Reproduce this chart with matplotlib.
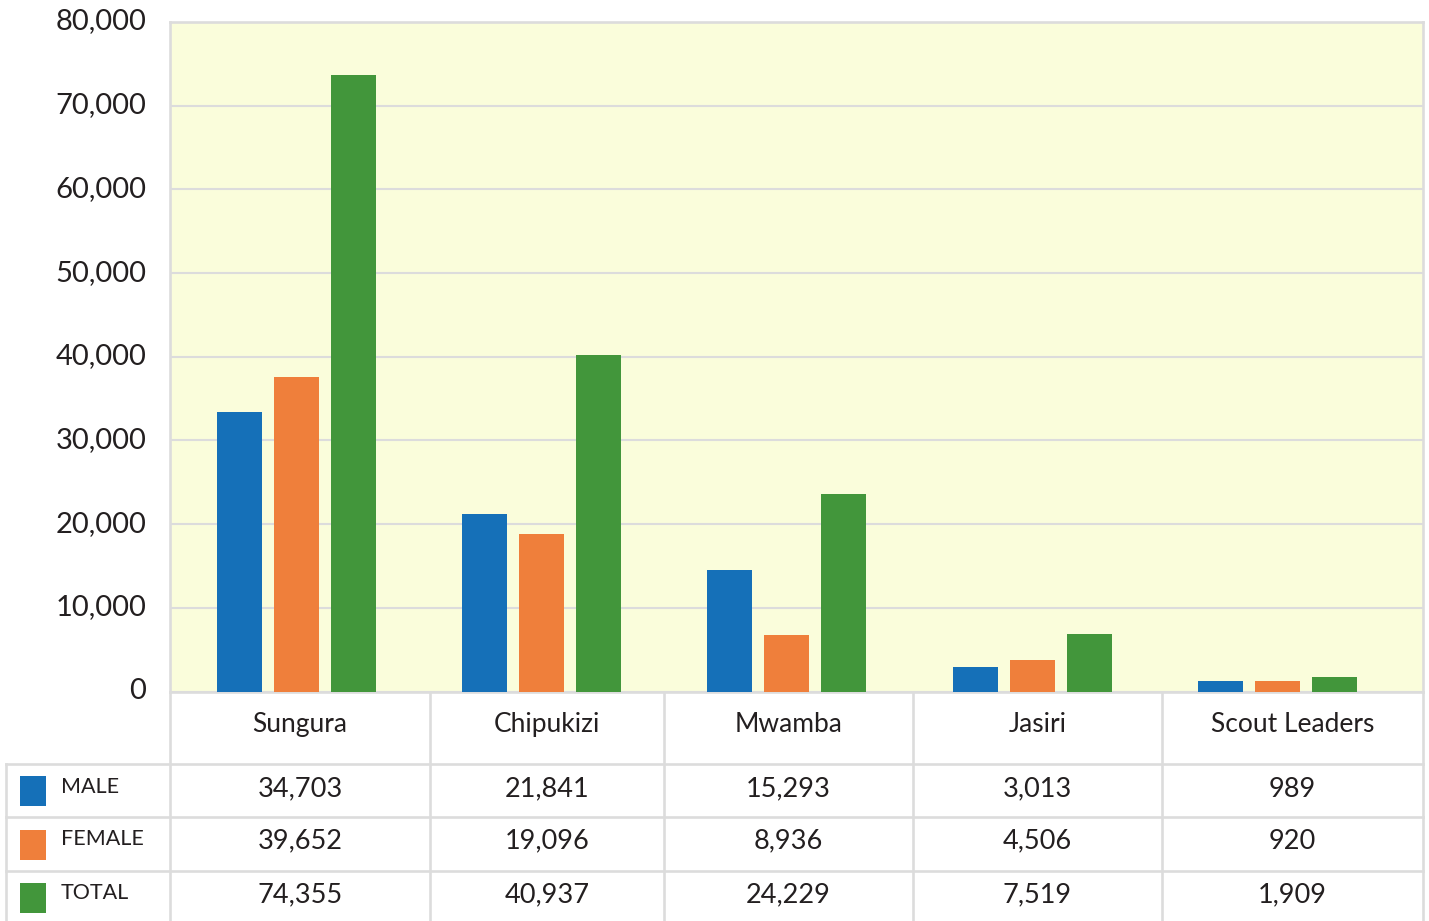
import matplotlib
matplotlib.use("Agg")
import matplotlib.pyplot as plt
from matplotlib.patches import Rectangle
from matplotlib.lines import Line2D
from matplotlib.transforms import ScaledTranslation
import numpy as np

plt.rcParams['font.family'] = ['Lato', 'DejaVu Sans']

# ---------------- data ----------------
categories = ["Sungura", "Chipukizi", "Mwamba", "Jasiri", "Scout Leaders"]
series_names = ["MALE", "FEMALE", "TOTAL"]
# values shown in the data table
male_table = [34703, 21841, 15293, 3013, 989]
female_table = [39652, 19096, 8936, 4506, 920]
total_table = [74355, 40937, 24229, 7519, 1909]
# bar heights as drawn in the reference picture
male_bars = [33400, 21220, 14530, 2900, 1310]
female_bars = [37590, 18830, 6710, 3750, 1310]
total_bars = [73670, 40220, 23610, 6920, 1800]
y_ticks = [0, 10000, 20000, 30000, 40000, 50000, 60000, 70000, 80000]

colors = ["#1570B8", "#EF7F3B", "#42963B"]
grid_c = "#DCDCDC"
bg_c = "#FAFDDB"
text_c = "#231F20"

W, H = 1429, 921
fig = plt.figure(figsize=(W / 100, H / 100), dpi=100)


def fx(px):
    return px / W


def fy(py):
    return 1 - py / H


# ---------------- main chart ----------------
plot_left, plot_right, plot_top, plot_bottom = 170, 1423, 22, 691.6
ax = fig.add_axes([fx(plot_left), fy(plot_bottom), fx(plot_right - plot_left),
                   (plot_bottom - plot_top) / H])
ax.set_facecolor(bg_c)

n = len(categories)
x = np.arange(n)
unit = 245.2  # pixels per category
bw = 45 / unit
step = 57 / unit
for k, vals in enumerate([male_bars, female_bars, total_bars]):
    ax.bar(x + (k - 1) * step - 3 / unit, vals, width=bw, color=colors[k],
           zorder=3, linewidth=0)

ax.set_xlim(-(299.4 - plot_left) / unit, (n - 1) + (plot_right - 1280.2) / unit)
ax.set_ylim(0, 80000)
ax.set_yticks(y_ticks)
ax.set_yticklabels([f"{v:,}" for v in y_ticks], fontsize=21, color=text_c)
ax.tick_params(axis='y', length=0, pad=17)
ax.tick_params(axis='x', length=0, labelbottom=False)
shift = ScaledTranslation(0, 3 / 100, fig.dpi_scale_trans)
for lbl in ax.get_yticklabels():
    lbl.set_transform(lbl.get_transform() + shift)
ax.grid(axis='y', color=grid_c, linewidth=1.5, zorder=1)
for s in ax.spines.values():
    s.set_color(grid_c)
    s.set_linewidth(1.9)

# ---------------- data table ----------------
tab = fig.add_axes([0, 0, 1, 1], facecolor='none')
tab.set_xlim(0, W)
tab.set_ylim(H, 0)
tab.axis('off')

col_edges = [170, 430, 664, 913, 1162, 1423]
row_edges = [691.6, 763.5, 817, 870.5, 925]
left_edge = 6
lw = 1.9

# horizontal lines
for yy in row_edges[1:4]:
    tab.add_line(Line2D([left_edge, col_edges[-1]], [yy, yy], color=grid_c, lw=lw))
# vertical lines
for xx in col_edges:
    tab.add_line(Line2D([xx, xx], [row_edges[0], H], color=grid_c, lw=lw))
tab.add_line(Line2D([left_edge, left_edge], [row_edges[1], H], color=grid_c, lw=lw))

# category headers
for i, cat in enumerate(categories):
    cx = (col_edges[i] + col_edges[i + 1]) / 2
    tab.text(cx, 724, cat, ha='center', va='center', fontsize=19, color=text_c)

# rows
table_rows = [male_table, female_table, total_table]
row_text_y = [789, 841, 895]
for r, (name, vals) in enumerate(zip(series_names, table_rows)):
    ty = row_text_y[r]
    sq_top = row_edges[r + 1] + 12.5
    tab.add_patch(Rectangle((20, sq_top), 26, 30, color=colors[r], lw=0))
    tab.text(61, ty - 2, name, ha='left', va='center', fontsize=15.5, color=text_c)
    for i, v in enumerate(vals):
        cx = (col_edges[i] + col_edges[i + 1]) / 2
        tab.text(cx, ty, f"{v:,}", ha='center', va='center', fontsize=19.5,
                 color=text_c)

fig.savefig("out.png", dpi=100)
